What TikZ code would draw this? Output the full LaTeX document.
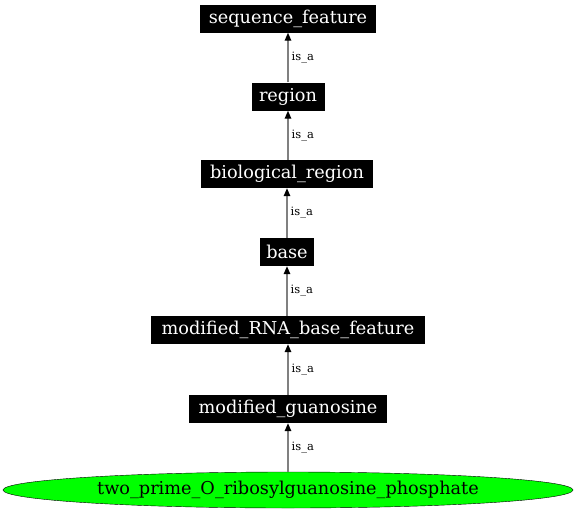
\documentclass[tikz,border=0pt]{standalone}
\usepackage{fontspec}
\setmainfont{DejaVu Serif}
\usetikzlibrary{arrows.meta,shapes.geometric}
\begin{document}
\begin{tikzpicture}[x=1pt,y=-1pt,
  term/.style={fill=black,text=white,inner sep=0pt,minimum height=28pt,font=\fontsize{17.7}{19}\selectfont},
  leaf/.style={ellipse,draw=black,fill={rgb,255:red,0;green,255;blue,0},inner sep=0pt,minimum width=570pt,minimum height=36pt,font=\fontsize{17.7}{19}\selectfont},
  isa/.style={draw={rgb,255:red,128;green,128;blue,128},line width=1.4pt,-{Triangle[length=8pt,width=6.5pt,fill=black,color=black]}},
  lbl/.style={font=\fontsize{11.5}{13}\selectfont,anchor=west,inner sep=0pt}]
\useasboundingbox (0,0) rectangle (576,514);
\node[term,minimum width=176pt] (sf) at (288,18.5) {sequence\_feature};
\node[term,minimum width=73pt] (rg) at (288,96.5) {region};
\node[term,minimum width=172pt] (br) at (287,174) {biological\_region};
\node[term,minimum width=54pt] (bs) at (287,252) {base};
\node[term,minimum width=274pt] (mr) at (288,330) {modified\_RNA\_base\_feature};
\node[term,minimum width=198pt] (mg) at (288,409) {modified\_guanosine};
\node[leaf] (tp) at (288,490) {two\_prime\_O\_ribosylguanosine\_phosphate};
\draw[isa] (rg.north) -- (sf.south) node[lbl,midway,xshift=3pt] {is\_a};
\draw[isa] (br.north -| rg.north) -- (rg.south) node[lbl,midway,xshift=3pt] {is\_a};
\draw[isa] (bs.north) -- (br.south -| bs.north) node[lbl,midway,xshift=3pt] {is\_a};
\draw[isa] (mr.north -| bs.north) -- (bs.south) node[lbl,midway,xshift=3pt] {is\_a};
\draw[isa] (mg.north) -- (mr.south) node[lbl,midway,xshift=3pt] {is\_a};
\draw[isa] (tp.north) -- (mg.south) node[lbl,midway,xshift=3pt] {is\_a};
\end{tikzpicture}
\end{document}
